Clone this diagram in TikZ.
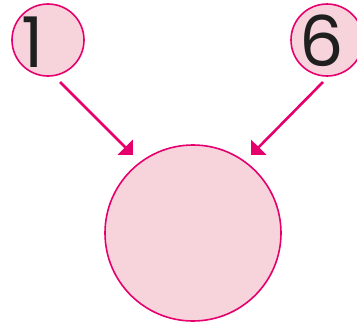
\documentclass[tikz,border=0pt]{standalone}
\usepackage{fontspec}
\setmainfont{Poppins}
\usetikzlibrary{arrows.meta}
\definecolor{mag}{HTML}{E5006E}
\definecolor{pinkfill}{HTML}{F7D3DB}
\begin{document}
\begin{tikzpicture}[x=1pt,y=-1pt,
  ball/.style={circle,draw=mag,fill=pinkfill,line width=1.6pt,inner sep=0pt},
  digit/.style={text=black!88,font=\fontsize{70}{70}\selectfont,inner sep=0pt},
  arr/.style={draw=mag,line width=2.6pt,-{Triangle[length=11pt,width=21pt]}}]
\useasboundingbox (0,0) rectangle (357,327);
\clip (0,0) rectangle (357,327);
\node[ball,minimum size=72pt] (a) at (48,40) {};
\node[ball,minimum size=72pt] (b) at (327,40) {};
\node[ball,minimum size=176pt] (c) at (193,233) {};
\node[digit] (ta) at (33,42) {1};
\node[digit] (tb) at (322,41) {6};
\coordinate (a1) at (60,82);
\coordinate (a2) at (133,155);
\coordinate (b1) at (323,82);
\coordinate (b2) at (251,155);
\draw[arr] (a1) -- (a2);
\draw[arr] (b1) -- (b2);
\end{tikzpicture}
\end{document}
